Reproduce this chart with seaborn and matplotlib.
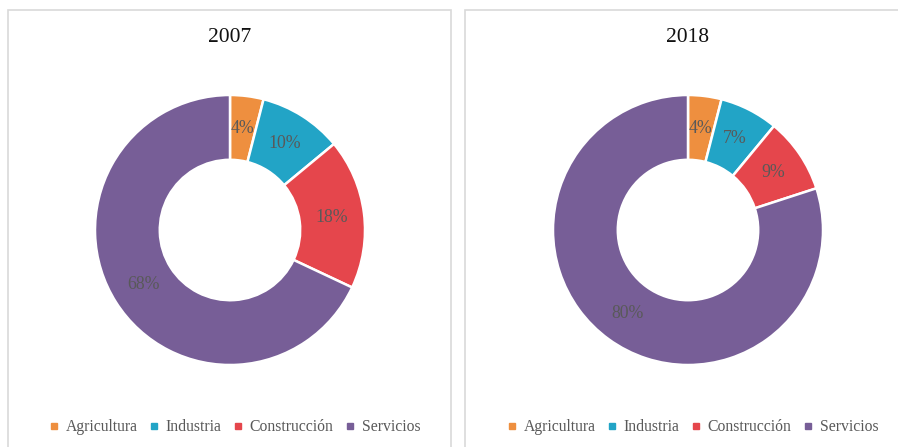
import matplotlib
matplotlib.use("Agg")
import matplotlib.pyplot as plt
from matplotlib.lines import Line2D
from matplotlib.patches import Rectangle
import seaborn as sns

categories = ["Agricultura", "Industria", "Construcción", "Servicios"]
years = ["2007", "2018"]
values_2007 = [4, 10, 18, 68]
values_2018 = [4, 7, 9, 80]
colors = ["#EE8F3F", "#22A4C6", "#E5464C", "#775E97"]

sns.set_theme(style="white")
plt.rcParams["font.family"] = ["Liberation Serif", "DejaVu Serif"]

W, H = 898, 447
fig = plt.figure(figsize=(W / 100, H / 100), dpi=100)
fig.patch.set_facecolor("white")

# panel borders
border = "#D9D9D9"
fig.patches.append(Rectangle((8 / W, -0.05), (451 - 8) / W, 1.05 - 10 / H,
                             transform=fig.transFigure, fill=False,
                             edgecolor=border, linewidth=1.2))
fig.patches.append(Rectangle((465 / W, -0.05), 0.6, 1.05 - 10 / H,
                             transform=fig.transFigure, fill=False,
                             edgecolor=border, linewidth=1.2))

centers = [230, 688]
legend_centers = [234, 692]
cy = 230
R = 135
for cx, lx, year, vals in zip(centers, legend_centers, years,
                              [values_2007, values_2018]):
    ax = fig.add_axes([(cx - R) / W, (H - cy - R) / H, 2 * R / W, 2 * R / H])
    wedges, texts, autotexts = ax.pie(
        vals, colors=colors, startangle=90, counterclock=False,
        autopct=lambda p: f"{p:.0f}%", pctdistance=0.76,
        wedgeprops=dict(width=0.48, edgecolor="white", linewidth=1.8),
        textprops=dict(color="#595959", fontsize=12.8),
    )
    ax.set_xlim(-1, 1)
    ax.set_ylim(-1, 1)
    ax.axis("off")
    fig.text(cx / W, 1 - 37 / H, year, ha="center", va="center",
             fontsize=15.5, color="#111111")

    handles = [Line2D([0], [0], marker="s", linestyle="", markersize=4,
                      markerfacecolor=c, markeredgecolor=c) for c in colors]
    fig.legend(handles, categories, loc="center",
               bbox_to_anchor=(lx / W, 1 - 427 / H), ncol=4,
               frameon=False, fontsize=11.3, handlelength=0.8,
               handletextpad=0.36, columnspacing=0.62, labelcolor="#595959")

fig.savefig("out.png", dpi=100, facecolor="white")
